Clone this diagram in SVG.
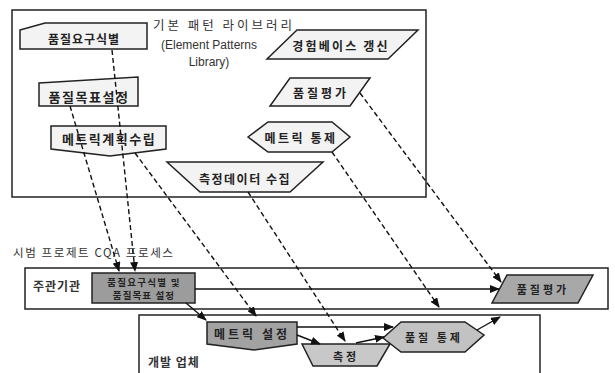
<svg xmlns="http://www.w3.org/2000/svg" width="615" height="373" viewBox="0 0 615 373">
<style>
.frame{fill:none;stroke:#222;stroke-width:1.5}
.lane{fill:#fff;stroke:#222;stroke-width:1.5}
.node{fill:#f3f3f3;stroke:#222;stroke-width:1.5}
.dark{stroke:#222;stroke-width:1.5}
.t{font-family:"Noto Sans CJK KR","Noto Sans",sans-serif;font-weight:bold;fill:#222;text-anchor:middle;dominant-baseline:central}
.lbl{font-family:"Noto Sans CJK KR","Noto Sans",sans-serif;fill:#333;dominant-baseline:central}
.en{font-family:"Liberation Sans",Arial,sans-serif;fill:#333;text-anchor:middle;dominant-baseline:central}
.dash{fill:none;stroke:#111;stroke-width:1.4;stroke-dasharray:5,3}
.solid{fill:none;stroke:#111;stroke-width:1.4}
</style>
<defs>
<marker id="ah" markerUnits="userSpaceOnUse" markerWidth="10" markerHeight="8" refX="9" refY="4" orient="auto">
<path d="M0,0 L10,4 L0,8 z" fill="#111"/>
</marker>
</defs>
<rect width="615" height="373" fill="#fff"/>

<g id="library">
<rect class="frame" x="12" y="10" width="414" height="187"/>
<text class="lbl" x="153" y="24" font-size="12.5" letter-spacing="3">기본 패턴 라이브러리</text>
<text class="en" x="209" y="45" font-size="12">(Element Patterns</text>
<text class="en" x="209" y="62" font-size="12">Library)</text>
</g>

<g id="n-req">
<polygon class="node" points="20,30 45,23 147,23 147,49 20,49"/>
<text class="t" x="84" y="38" font-size="12" letter-spacing="1">품질요구식별</text>
</g>
<g id="n-goal">
<polygon class="node" points="39,83 138,77 138,106 39,106"/>
<text class="t" x="89" y="96" font-size="13" letter-spacing="1.5">품질목표설정</text>
</g>
<g id="n-metricplan">
<polygon class="node" points="51,126 166,126 166,149 110,156 51,149"/>
<text class="t" x="109" y="138" font-size="13" letter-spacing="1.5">메트릭계획수립</text>
</g>
<g id="n-collect">
<polygon class="node" points="167,162 323,162 290,192 200,192"/>
<text class="t" x="245" y="178" font-size="12" letter-spacing="1.5">측정데이터 수집</text>
</g>
<g id="n-mcontrol">
<polygon class="node" points="248,137 268,122 332,122 350,137 332,152 268,152"/>
<text class="t" x="301" y="137" font-size="12" letter-spacing="2.5">메트릭 통제</text>
</g>
<g id="n-eval">
<polygon class="node" points="290,78 370,78 350,106 270,106"/>
<text class="t" x="321" y="92" font-size="12" letter-spacing="3">품질평가</text>
</g>
<g id="n-exp">
<polygon class="node" points="297,30 418,30 388,59 267,59"/>
<text class="t" x="341" y="45" font-size="12" letter-spacing="2.2">경험베이스 갱신</text>
</g>

<text class="lbl" x="13" y="252" font-size="11.5" letter-spacing="1.6">시범 프로제트 CQA 프로세스</text>

<g id="lane-owner">
<rect class="lane" x="25" y="268" width="583" height="41"/>
<text class="lbl" x="33" y="285" font-size="12" font-weight="bold" letter-spacing="1">주관기관</text>
</g>
<g id="lane-dev">
<rect class="lane" x="139" y="315" width="401" height="70"/>
<text class="lbl" x="148" y="361" font-size="12" font-weight="bold" letter-spacing="1">개발 업체</text>
</g>

<g id="p-reqgoal">
<rect class="dark" x="92" y="273" width="103" height="30" fill="#9c9c9c"/>
<text class="t" x="144" y="282" font-size="9.5" letter-spacing="1.3">품질요구식별 및</text>
<text class="t" x="144" y="295" font-size="9.5" letter-spacing="1.1">품질목표 설정</text>
</g>
<g id="p-eval">
<polygon class="dark" points="507,275 593,275 578,303 492,303" fill="#a8a8a8"/>
<text class="t" x="543" y="289" font-size="11" letter-spacing="3">품질평가</text>
</g>
<g id="p-metric">
<polygon class="dark" points="207,322 297,322 297,344 254,350 207,344" fill="#a2a2a2"/>
<text class="t" x="252" y="333" font-size="12" letter-spacing="3">메트릭 설정</text>
</g>
<g id="p-measure">
<polygon class="dark" points="302,344 390,344 377,366 313,366" fill="#c8c8c8"/>
<text class="t" x="346" y="356" font-size="11" letter-spacing="3">측정</text>
</g>
<g id="p-control">
<polygon class="dark" points="383,338 401,322 465,322 484,335 465,352 401,352" fill="#c2c2c2"/>
<text class="t" x="434" y="337" font-size="11" letter-spacing="3">품질 통제</text>
</g>

<g id="connectors">
<path class="dash" d="M112,50 L135,271" marker-end="url(#ah)"/>
<path class="dash" d="M70,106 L119,271" marker-end="url(#ah)"/>
<path class="dash" d="M135,153 L256,316" marker-end="url(#ah)"/>
<path class="dash" d="M248,192 L345,341" marker-end="url(#ah)"/>
<path class="dash" d="M332,152 L439,307" marker-end="url(#ah)"/>
<path class="dash" d="M360,93 L501,282" marker-end="url(#ah)"/>
<path class="solid" d="M195,289 L499,289" marker-end="url(#ah)"/>
<path class="solid" d="M186,303 L206,320" marker-end="url(#ah)"/>
<path class="solid" d="M297,327 L393,327" marker-end="url(#ah)"/>
<path class="solid" d="M297,335 L320,344" marker-end="url(#ah)"/>
<path class="solid" d="M356,343 L384,337" marker-end="url(#ah)"/>
<path class="solid" d="M477,330 L500,317" marker-end="url(#ah)"/>
</g>
</svg>
